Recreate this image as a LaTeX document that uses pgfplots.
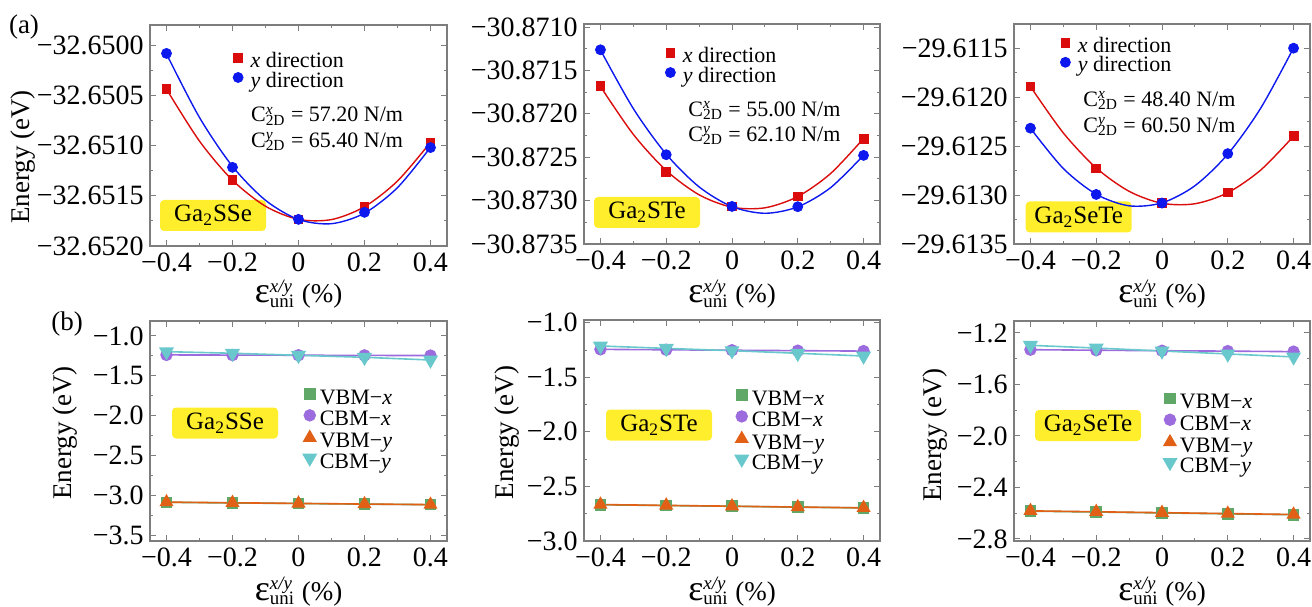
\documentclass[border=0pt]{standalone}
\usepackage{fontspec}
\setmainfont{Liberation Serif}
\usepackage{pgfplots}
\pgfplotsset{compat=1.18}

\definecolor{cred}{RGB}{218,12,12}
\definecolor{cblue}{RGB}{12,24,238}
\definecolor{cgreen}{RGB}{96,168,104}
\definecolor{cpurple}{RGB}{156,108,222}
\definecolor{corange}{RGB}{226,96,22}
\definecolor{ccyan}{RGB}{104,200,204}
\definecolor{cyel}{RGB}{255,238,44}
\definecolor{axgray}{RGB}{125,125,125}

\newcommand{\xlab}{{\fontsize{18}{18}\selectfont ε}\rlap{\textsuperscript{\itshape x/y}}\textsubscript{uni}\ (\%)}
\newcommand{\cxd}[1]{C\rlap{\textsuperscript{\itshape #1}}\textsubscript{2D}}

\pgfplotsset{
  panel/.style={
    scale only axis, anchor=north west,
    xmin=-0.45, xmax=0.45,
    xtick={-0.4,-0.2,0,0.2,0.4},
    xticklabels={−0.4,−0.2,0,0.2,0.4},
    minor x tick num=1, minor y tick num=1,
    tick align=inside,
    major tick length=2.8pt, minor tick length=1.6pt,
    axis line style={draw=axgray, line width=0.6pt},
    every tick/.style={draw=axgray, line width=0.5pt},
    tick label style={font=\fontsize{14}{16}\selectfont},
    xticklabel style={inner ysep=3.2pt},
    yticklabel style={inner xsep=3pt},
  },
  toplegend/.style={
    legend style={draw=none, fill=none, inner sep=0pt, outer sep=0pt,
      anchor=north west, font=\fontsize{11}{13}\selectfont,
      nodes={inner sep=0pt, text height=7.5pt, text depth=2.3pt}},
    legend cell align=left,
    legend image code/.code={\draw[##1] plot coordinates {(2.5pt,2.2pt)}; \path (0pt,0pt) (8.5pt,0pt);},
  },
  botlegend/.style={
    legend style={draw=none, fill=none, inner sep=0pt, outer sep=0pt,
      anchor=north west, font=\fontsize{11}{12.5}\selectfont,
      nodes={inner sep=0pt, text height=7.4pt, text depth=2.75pt}},
    legend cell align=left,
    legend image code/.code={\draw[##1] plot coordinates {(3pt,2.8pt)}; \path (0pt,0pt) (7.6pt,0pt);},
  },
  fitx/.style={forget plot, no marks, smooth, cred, line width=0.7pt},
  fity/.style={forget plot, no marks, smooth, cblue, line width=0.7pt},
  ptx/.style={only marks, mark=square*, mark size=2.2pt, cred, mark options={fill=cred}},
  pty/.style={only marks, mark=*, mark size=2.5pt, cblue, mark options={fill=cblue}},
  vbmx/.style={cgreen, line width=0.8pt, mark=square*, mark size=2.5pt, mark options={fill=cgreen}},
  cbmx/.style={cpurple, line width=0.8pt, mark=*, mark size=2.7pt, mark options={fill=cpurple}},
  vbmy/.style={corange, line width=0.8pt, mark=triangle*, mark size=3.3pt, mark options={fill=corange}},
  cbmy/.style={ccyan, line width=0.8pt, mark=triangle*, mark size=3.6pt, mark options={fill=ccyan, rotate=180}},
}

\begin{document}
\begin{tikzpicture}
\path[use as bounding box] (0pt,0pt) rectangle (656pt,303pt);

% yellow labels
\tikzset{ybox/.style={fill=cyel, rounded corners=2pt, minimum width=53pt, minimum height=15.5pt, inner sep=0pt, font=\fontsize{12.5}{14}\selectfont}}
\node[ybox] at (106.5pt,195.25pt) {Ga\textsubscript{2}SSe};
\node[ybox] at (323.5pt,196.75pt) {Ga\textsubscript{2}STe};
\node[ybox] at (539.35pt,194.5pt) {Ga\textsubscript{2}SeTe};
\node[ybox] at (112.5pt,91.5pt) {Ga\textsubscript{2}SSe};
\node[ybox] at (329.5pt,90.5pt) {Ga\textsubscript{2}STe};
\node[ybox] at (544pt,90.25pt) {Ga\textsubscript{2}SeTe};

% (a) top row: y is the energy offset in units of 1e-4 eV from the top tick value
\begin{axis}[panel, at={(75pt,290.5pt)}, width=148.5pt, height=110.5pt,
  ymin=-20, ymax=2, ytick={-20,-15,-10,-5,0},
  yticklabels={−32.6520,−32.6515,−32.6510,−32.6505,−32.6500},
  toplegend, legend style={at={(0.2785,0.8756)}}]
\addplot[fitx] coordinates {(-0.4,-4.39)(-0.3,-9.56)(-0.2,-13.45)(-0.1,-16.04)(0,-17.35)(0.1,-17.37)(0.2,-16.09)(0.3,-13.53)(0.4,-9.68)};
\addplot[fity] coordinates {(-0.4,-0.88)(-0.3,-7.21)(-0.2,-12.07)(-0.1,-15.45)(0,-17.36)(0.1,-17.78)(0.2,-16.73)(0.3,-14.19)(0.4,-10.18)};
\addplot[ptx] coordinates {(-0.4,-4.4)(-0.2,-13.46)(0,-17.35)(0.2,-16.1)(0.4,-9.7)};
\addplot[pty] coordinates {(-0.4,-0.83)(-0.2,-12.17)(0,-17.35)(0.2,-16.65)(0.4,-10.2)};
\legend{\textit{x} direction, \textit{y} direction}
\end{axis}

\begin{axis}[panel, at={(292pt,291pt)}, width=148pt, height=110pt,
  ymin=-25, ymax=0.35, ytick={-25,-20,-15,-10,-5,0},
  yticklabels={−30.8735,−30.8730,−30.8725,−30.8720,−30.8715,−30.8710},
  toplegend, legend style={at={(0.2736,0.893)}}]
\addplot[fitx] coordinates {(-0.4,-6.85)(-0.3,-12.37)(-0.2,-16.53)(-0.1,-19.33)(0,-20.76)(0.1,-20.83)(0.2,-19.53)(0.3,-16.87)(0.4,-12.84)};
\addplot[fity] coordinates {(-0.4,-2.64)(-0.3,-9.40)(-0.2,-14.65)(-0.1,-18.42)(0,-20.69)(0.1,-21.46)(0.2,-20.72)(0.3,-18.50)(0.4,-14.78)};
\addplot[ptx] coordinates {(-0.4,-6.8)(-0.2,-16.67)(0,-20.67)(0.2,-19.51)(0.4,-12.87)};
\addplot[pty] coordinates {(-0.4,-2.62)(-0.2,-14.71)(0,-20.67)(0.2,-20.70)(0.4,-14.79)};
\legend{\textit{x} direction, \textit{y} direction}
\end{axis}

\begin{axis}[panel, at={(507pt,291pt)}, width=148pt, height=110pt,
  ymin=-20, ymax=2.47, ytick={-20,-15,-10,-5,0},
  yticklabels={−29.6135,−29.6130,−29.6125,−29.6120,−29.6115},
  toplegend, legend style={at={(0.1554,0.9395)}}]
\addplot[fitx] coordinates {(-0.4,-3.92)(-0.3,-8.66)(-0.2,-12.23)(-0.1,-14.62)(0,-15.84)(0.1,-15.89)(0.2,-14.76)(0.3,-12.45)(0.4,-8.99)};
\addplot[fity] coordinates {(-0.4,-8.18)(-0.3,-12.29)(-0.2,-14.92)(-0.1,-16.10)(0,-15.80)(0.1,-14.05)(0.2,-10.82)(0.3,-6.13)(0.4,0.02)};
\addplot[ptx] coordinates {(-0.4,-3.90)(-0.2,-12.27)(0,-15.82)(0.2,-14.74)(0.4,-8.98)};
\addplot[pty] coordinates {(-0.4,-8.17)(-0.2,-14.94)(0,-15.82)(0.2,-10.77)(0.4,0.0)};
\legend{\textit{x} direction, \textit{y} direction}
\end{axis}

% (b) band edges
\begin{axis}[panel, at={(75pt,142.5pt)}, width=148.5pt, height=110pt,
  ymin=-3.575, ymax=-0.812, ytick={-3.5,-3,-2.5,-2,-1.5,-1},
  yticklabels={−3.5,−3.0,−2.5,−2.0,−1.5,−1.0},
  botlegend, legend style={at={(0.515,0.690)}}]
\addplot[vbmx] coordinates {(-0.4,-3.089)(-0.2,-3.097)(0,-3.104)(0.2,-3.112)(0.4,-3.119)};
\addplot[cbmx] coordinates {(-0.4,-1.238)(-0.2,-1.240)(0,-1.242)(0.2,-1.244)(0.4,-1.246)};
\addplot[vbmy] coordinates {(-0.4,-3.087)(-0.2,-3.095)(0,-3.103)(0.2,-3.111)(0.4,-3.118)};
\addplot[cbmy] coordinates {(-0.4,-1.197)(-0.2,-1.217)(0,-1.243)(0.2,-1.268)(0.4,-1.302)};
\legend{VBM−\textit{x}, CBM−\textit{x}, VBM−\textit{y}, CBM−\textit{y}}
\end{axis}

\begin{axis}[panel, at={(292pt,143pt)}, width=148pt, height=110.5pt,
  ymin=-3, ymax=-0.975, ytick={-3,-2.5,-2,-1.5,-1},
  yticklabels={−3.0,−2.5,−2.0,−1.5,−1.0},
  botlegend, legend style={at={(0.510,0.682)}}]
\addplot[vbmx] coordinates {(-0.4,-2.668)(-0.2,-2.675)(0,-2.682)(0.2,-2.690)(0.4,-2.697)};
\addplot[cbmx] coordinates {(-0.4,-1.244)(-0.2,-1.248)(0,-1.252)(0.2,-1.256)(0.4,-1.260)};
\addplot[vbmy] coordinates {(-0.4,-2.666)(-0.2,-2.674)(0,-2.681)(0.2,-2.689)(0.4,-2.696)};
\addplot[cbmy] coordinates {(-0.4,-1.213)(-0.2,-1.235)(0,-1.256)(0.2,-1.280)(0.4,-1.305)};
\legend{VBM−\textit{x}, CBM−\textit{x}, VBM−\textit{y}, CBM−\textit{y}}
\end{axis}

\begin{axis}[panel, at={(507pt,142.5pt)}, width=148pt, height=110pt,
  ymin=-2.816, ymax=-1.107, ytick={-2.8,-2.4,-2.0,-1.6,-1.2},
  yticklabels={−2.8,−2.4,−2.0,−1.6,−1.2},
  botlegend, legend style={at={(0.504,0.670)}}]
\addplot[vbmx] coordinates {(-0.4,-2.584)(-0.2,-2.591)(0,-2.598)(0.2,-2.605)(0.4,-2.612)};
\addplot[cbmx] coordinates {(-0.4,-1.330)(-0.2,-1.334)(0,-1.338)(0.2,-1.341)(0.4,-1.345)};
\addplot[vbmy] coordinates {(-0.4,-2.582)(-0.2,-2.589)(0,-2.596)(0.2,-2.603)(0.4,-2.610)};
\addplot[cbmy] coordinates {(-0.4,-1.296)(-0.2,-1.317)(0,-1.340)(0.2,-1.363)(0.4,-1.386)};
\legend{VBM−\textit{x}, CBM−\textit{x}, VBM−\textit{y}, CBM−\textit{y}}
\end{axis}

% elastic constants
\tikzset{ctext/.style={anchor=base west, inner sep=0pt, font=\fontsize{11}{13}\selectfont}}
\node[ctext] at (125.35pt,242pt) {\cxd{x} = 57.20 N/m};
\node[ctext] at (125.35pt,229.25pt) {\cxd{y} = 65.40 N/m};
\node[ctext] at (344pt,244.75pt) {\cxd{x} = 55.00 N/m};
\node[ctext] at (344pt,232.15pt) {\cxd{y} = 62.10 N/m};
\node[ctext] at (541.5pt,249.65pt) {\cxd{x} = 48.40 N/m};
\node[ctext] at (541.5pt,236.85pt) {\cxd{y} = 60.50 N/m};

% panel letters and axis labels
\tikzset{lab/.style={inner sep=0pt, font=\fontsize{13.5}{15}\selectfont}}
\node[lab] at (12pt,289.5pt) {(a)};
\node[lab] at (33.5pt,141pt) {(b)};
\node[lab, rotate=90] at (11.5pt,224.5pt) {Energy (eV)};
\node[lab, rotate=90] at (32.5pt,86.5pt) {Energy (eV)};
\node[lab, rotate=90] at (253.5pt,86.75pt) {Energy (eV)};
\node[lab, rotate=90] at (467.5pt,85.5pt) {Energy (eV)};
\node[lab, anchor=base] at (149.25pt,151.5pt) {\xlab};
\node[lab, anchor=base] at (366pt,151.5pt) {\xlab};
\node[lab, anchor=base] at (581pt,151.5pt) {\xlab};
\node[lab, anchor=base] at (149.25pt,3pt) {\xlab};
\node[lab, anchor=base] at (366pt,3pt) {\xlab};
\node[lab, anchor=base] at (581pt,3pt) {\xlab};
\end{tikzpicture}
\end{document}
